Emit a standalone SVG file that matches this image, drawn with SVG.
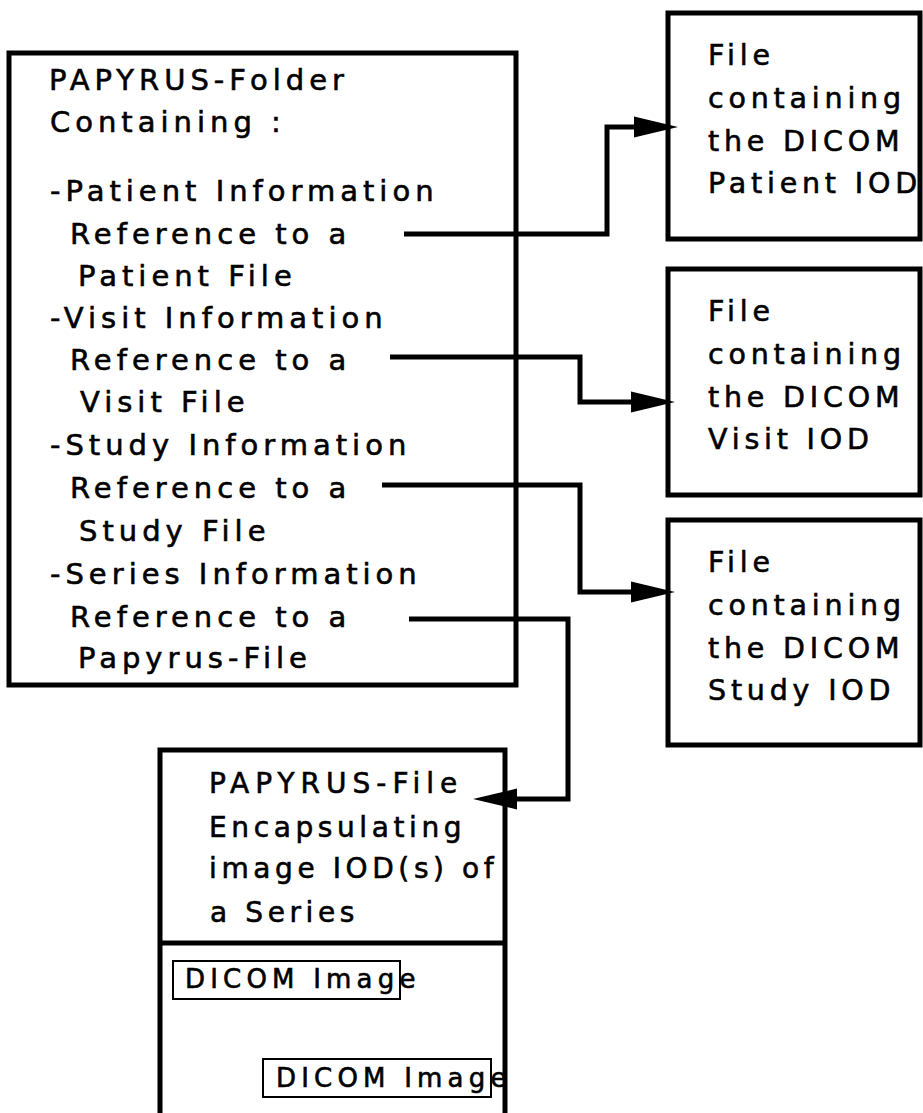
<svg xmlns="http://www.w3.org/2000/svg" width="923" height="1113" viewBox="0 0 923 1113">
<style>
.box{fill:none;stroke:#000;stroke-width:5}
.thin{fill:none;stroke:#000;stroke-width:2}
text{font-family:"DejaVu Sans","Liberation Sans",sans-serif;fill:#000;stroke:#000;stroke-width:0.6px}
.t{font-size:29px;letter-spacing:5px}
.r{font-size:28.5px;letter-spacing:4.8px}
.p{font-size:28px;letter-spacing:4.6px}
.d{font-size:26px;letter-spacing:5.2px}
.c{fill:none;stroke:#000;stroke-width:5;stroke-linejoin:miter}
</style>
<defs>
<marker id="ah" markerUnits="userSpaceOnUse" markerWidth="44" markerHeight="22" refX="2" refY="10.5" orient="auto" overflow="visible">
<path d="M0,0 L44,10.5 L0,21 Z" fill="#000"/>
</marker>
</defs>
<rect width="923" height="1113" fill="#fff"/>
<g id="folder">
<rect class="box" x="9" y="53" width="507" height="632"/>
<text class="t" x="49" y="90">PAPYRUS-Folder</text>
<text class="t" x="50" y="132">Containing :</text>
<text class="t" x="50" y="201">-Patient Information</text>
<text class="t" x="70" y="244">Reference to a</text>
<text class="t" x="78" y="286">Patient File</text>
<text class="t" x="50" y="328">-Visit Information</text>
<text class="t" x="70" y="370">Reference to a</text>
<text class="t" x="80" y="412">Visit File</text>
<text class="t" x="50" y="455">-Study Information</text>
<text class="t" x="70" y="498">Reference to a</text>
<text class="t" x="79" y="541">Study File</text>
<text class="t" x="50" y="584">-Series Information</text>
<text class="t" x="70" y="627">Reference to a</text>
<text class="t" x="78" y="668">Papyrus-File</text>
</g>
<g id="patient">
<rect class="box" x="668" y="13" width="252" height="226"/>
<text class="r" x="708" y="65">File</text>
<text class="r" x="708" y="108">containing</text>
<text class="r" x="708" y="151">the DICOM</text>
<text class="r" x="708" y="193">Patient IOD</text>
</g>
<g id="visit">
<rect class="box" x="668" y="269" width="252" height="226"/>
<text class="r" x="708" y="321">File</text>
<text class="r" x="708" y="364">containing</text>
<text class="r" x="708" y="407">the DICOM</text>
<text class="r" x="708" y="449">Visit IOD</text>
</g>
<g id="study">
<rect class="box" x="668" y="520" width="252" height="225"/>
<text class="r" x="708" y="572">File</text>
<text class="r" x="708" y="615">containing</text>
<text class="r" x="708" y="658">the DICOM</text>
<text class="r" x="708" y="700">Study IOD</text>
</g>
<g id="papyrusfile">
<rect class="box" x="160" y="750" width="345" height="400"/>
<line class="box" x1="160" y1="943" x2="505" y2="943"/>
<text class="p" x="209" y="793" style="letter-spacing:6px">PAPYRUS-File</text>
<text class="p" x="209" y="837">Encapsulating</text>
<text class="p" x="209" y="878">image IOD(s) of</text>
<text class="p" x="210" y="922">a Series</text>
<rect class="thin" x="173" y="961" width="227" height="38"/>
<text class="d" x="185" y="988">DICOM Image</text>
<rect class="thin" x="263" y="1059" width="228" height="38"/>
<text class="d" x="276" y="1087">DICOM Image</text>
</g>
<g id="connectors">
<path class="c" d="M404,234 H607 V127 H636" marker-end="url(#ah)"/>
<path class="c" d="M390,357 H580 V402 H633" marker-end="url(#ah)"/>
<path class="c" d="M382,485 H580 V592 H633" marker-end="url(#ah)"/>
<path class="c" d="M409,619 H568 V799 H515" marker-end="url(#ah)"/>
</g>
</svg>
